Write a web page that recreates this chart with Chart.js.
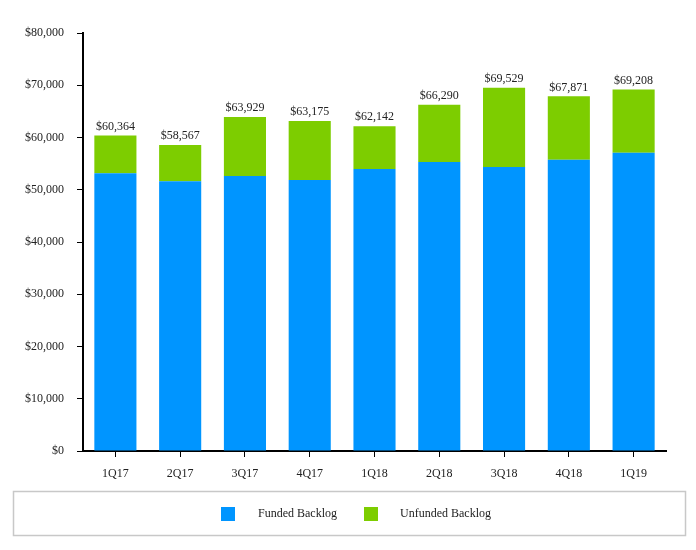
<!DOCTYPE html>
<html><head><meta charset="utf-8">
<script src="https://cdn.jsdelivr.net/npm/chart.js@4/dist/chart.umd.min.js"></script>
<style>html,body{margin:0;padding:0;background:#fff}#wrap{width:696px;height:550px;position:relative}</style>
</head><body><div id="wrap"><canvas id="c" width="696" height="550"></canvas></div>
<script>
const categories = ['1Q17','2Q17','3Q17','4Q17','1Q18','2Q18','3Q18','4Q18','1Q19'];
const funded   = [53150, 51620, 52630, 51870, 53970, 55310, 54350, 55750, 57090];
const unfunded = [7214, 6947, 11299, 11305, 8172, 10980, 15179, 12121, 12118];
const totals   = [60364, 58567, 63929, 63175, 62142, 66290, 69529, 67871, 69208];
const yTicks = [0,10000,20000,30000,40000,50000,60000,70000,80000];

const FONT = "'Liberation Serif', 'Times New Roman', serif";
const fmt = v => '$' + v.toLocaleString('en-US');

const totalLabels = {
  id: 'totalLabels',
  afterDatasetsDraw(chart) {
    const ctx = chart.ctx;
    const meta = chart.getDatasetMeta(1);
    ctx.save();
    ctx.font = '12px ' + FONT;
    ctx.fillStyle = '#222';
    ctx.textAlign = 'center';
    ctx.textBaseline = 'bottom';
    meta.data.forEach((bar, i) => {
      const y = chart.scales.y.getPixelForValue(totals[i]);
      ctx.fillText(fmt(totals[i]), bar.x, y - 3);
    });
    ctx.restore();
  }
};

const boxLegend = {
  id: 'boxLegend',
  afterDraw(chart) {
    const ctx = chart.ctx;
    ctx.save();
    ctx.strokeStyle = '#c8c8c8';
    ctx.lineWidth = 1.5;
    ctx.strokeRect(13.5, 491.5, 672, 44);
    ctx.font = '12px ' + FONT;
    ctx.textBaseline = 'middle';
    ctx.textAlign = 'left';
    const items = [{x:221, tx:258}, {x:364, tx:400}];
    chart.data.datasets.forEach((ds, i) => {
      ctx.fillStyle = ds.backgroundColor;
      ctx.fillRect(items[i].x, 507, 14, 14);
      ctx.fillStyle = '#222';
      ctx.fillText(ds.label, items[i].tx, 514);
    });
    ctx.restore();
  }
};

new Chart(document.getElementById('c'), {
  type: 'bar',
  data: {
    labels: categories,
    datasets: [
      {label: 'Funded Backlog', data: funded, backgroundColor: '#0095FF', barPercentage: 0.65, categoryPercentage: 1},
      {label: 'Unfunded Backlog', data: unfunded, backgroundColor: '#7DCD00', barPercentage: 0.65, categoryPercentage: 1}
    ]
  },
  options: {
    responsive: false,
    animation: false,
    layout: {padding: {left: 0, right: 30, top: 33, bottom: 0}},
    plugins: {legend: {display: false}, tooltip: {enabled: false}},
    scales: {
      x: {
        stacked: true,
        grid: {display: true, drawOnChartArea: false, drawTicks: true, tickLength: 6, color: '#000', offset: false},
        border: {display: true, color: '#000', width: 2},
        ticks: {font: {family: FONT, size: 12}, color: '#222', padding: 10, maxRotation: 0},
        afterFit(s) { s.height = 99; }
      },
      y: {
        stacked: true,
        min: 0, max: 80000,
        afterBuildTicks(s) { s.ticks = yTicks.map(v => ({value: v})); },
        grid: {display: true, drawOnChartArea: false, drawTicks: true, tickLength: 6, color: '#000'},
        border: {display: true, color: '#000', width: 2},
        ticks: {font: {family: FONT, size: 12}, color: '#222', padding: 13, callback: v => fmt(v)},
        afterFit(s) { s.width = 83; }
      }
    }
  },
  plugins: [totalLabels, boxLegend]
});
</script></body></html>
